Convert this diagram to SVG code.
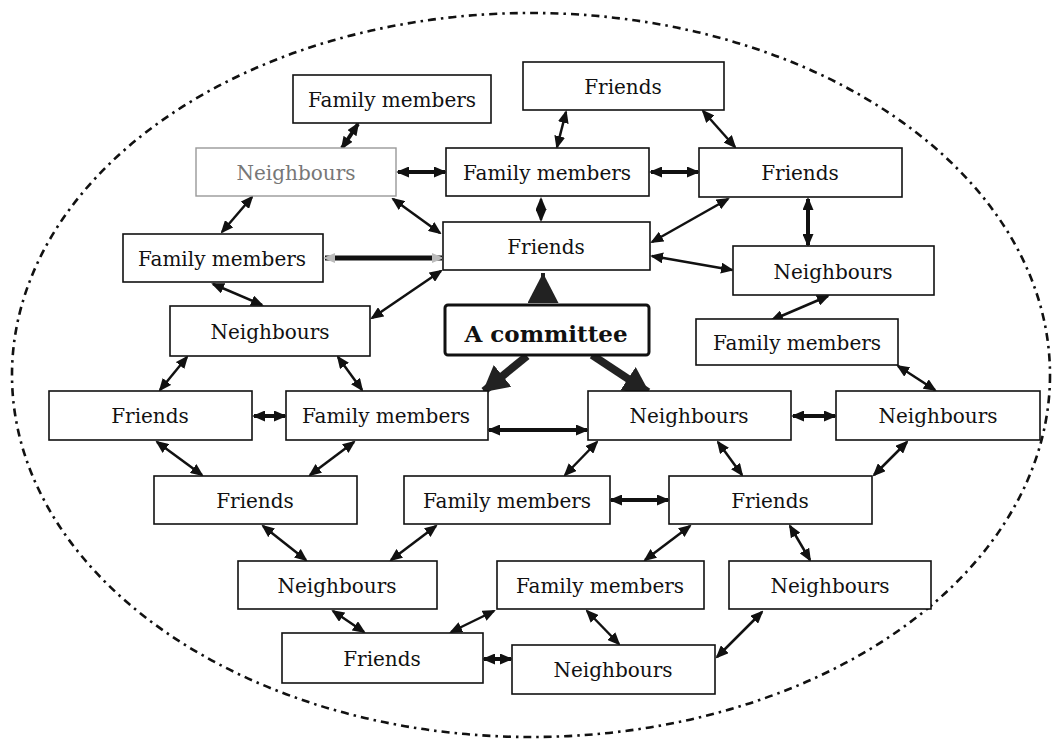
<svg xmlns="http://www.w3.org/2000/svg" width="1057" height="743" viewBox="0 0 1057 743">
<style>
.box{fill:#fff;stroke:#111;stroke-width:1.6}
.gbox{fill:#fff;stroke:#999;stroke-width:1.4}
.cbox{fill:#fff;stroke:#111;stroke-width:3}
text{font-family:"DejaVu Serif","Liberation Serif",serif;font-size:20px;fill:#111;text-anchor:middle}
.g{fill:#777}
.b{font-weight:bold;font-size:23px}
.c{stroke:#111;stroke-width:2.5;fill:none;marker-start:url(#ah);marker-end:url(#ah)}
.t{stroke:#111;stroke-width:4;fill:none;marker-start:url(#ah);marker-end:url(#ah)}
.k{stroke:#222;stroke-width:8;fill:none;marker-end:url(#big)}
</style>
<defs>
<marker id="ah" viewBox="0 0 13 11" refX="11" refY="5.5" markerWidth="13" markerHeight="11" markerUnits="userSpaceOnUse" orient="auto-start-reverse"><path d="M0,0 L13,5.5 L0,11 z" fill="#111"/></marker>
<marker id="gh" viewBox="0 0 12 10" refX="10" refY="5" markerWidth="12" markerHeight="10" markerUnits="userSpaceOnUse" orient="auto-start-reverse"><path d="M0,0 L12,5 L0,10 z" fill="#bbb"/></marker>
<marker id="big" viewBox="0 0 26 28" refX="24" refY="14" markerWidth="26" markerHeight="28" markerUnits="userSpaceOnUse" orient="auto"><path d="M0,0 L26,14 L0,28 z" fill="#222"/></marker>
<marker id="tri" viewBox="0 0 30 31" refX="30" refY="15.5" markerWidth="30" markerHeight="31" markerUnits="userSpaceOnUse" orient="auto"><path d="M0,0 L30,15.5 L0,31 z" fill="#222"/></marker>
</defs>
<ellipse cx="531" cy="375" rx="519" ry="362" fill="none" stroke="#111" stroke-width="2.6" stroke-dasharray="8 5 2.5 5"/>
<g id="connectors">
<line class="t" x1="358" y1="124" x2="342" y2="148"/>
<line class="c" x1="566" y1="112" x2="557" y2="147"/>
<line class="c" x1="703" y1="111" x2="735" y2="147"/>
<line class="t" x1="398" y1="172" x2="445" y2="172"/>
<line class="t" x1="651" y1="172" x2="698" y2="172"/>
<line class="c" x1="541" y1="199" x2="541" y2="220"/>
<line class="c" x1="393" y1="199" x2="440" y2="233"/>
<line class="c" x1="252" y1="197" x2="222" y2="232"/>
<line x1="325" y1="258" x2="442" y2="258" stroke="#111" stroke-width="5" marker-start="url(#gh)" marker-end="url(#gh)"/>
<line class="c" x1="728" y1="199" x2="652" y2="242"/>
<line class="t" x1="808" y1="199" x2="808" y2="245"/>
<line class="c" x1="652" y1="256" x2="732" y2="270"/>
<line class="c" x1="213" y1="284" x2="262" y2="305"/>
<line class="c" x1="441" y1="271" x2="372" y2="318"/>
<line class="c" x1="828" y1="296" x2="772" y2="320"/>
<line x1="543" y1="303" x2="543" y2="273" stroke="#222" stroke-width="4" marker-end="url(#tri)"/>
<line class="k" x1="592" y1="355" x2="648" y2="392"/>
<line class="k" x1="527" y1="356" x2="484" y2="391"/>
<line class="c" x1="187" y1="357" x2="160" y2="390"/>
<line class="c" x1="338" y1="357" x2="362" y2="390"/>
<line class="c" x1="898" y1="366" x2="935" y2="390"/>
<line class="t" x1="254" y1="416" x2="285" y2="416"/>
<line class="t" x1="489" y1="430" x2="587" y2="430"/>
<line class="t" x1="793" y1="416" x2="835" y2="416"/>
<line class="c" x1="157" y1="442" x2="202" y2="475"/>
<line class="c" x1="354" y1="442" x2="310" y2="475"/>
<line class="c" x1="597" y1="442" x2="565" y2="475"/>
<line class="c" x1="718" y1="442" x2="742" y2="475"/>
<line class="c" x1="907" y1="442" x2="874" y2="475"/>
<line class="t" x1="611" y1="500" x2="668" y2="500"/>
<line class="c" x1="263" y1="526" x2="306" y2="560"/>
<line class="c" x1="436" y1="526" x2="391" y2="560"/>
<line class="c" x1="690" y1="526" x2="645" y2="560"/>
<line class="c" x1="790" y1="526" x2="810" y2="560"/>
<line class="c" x1="333" y1="611" x2="364" y2="632"/>
<line class="c" x1="494" y1="611" x2="451" y2="632"/>
<line class="c" x1="587" y1="611" x2="619" y2="644"/>
<line class="c" x1="762" y1="612" x2="717" y2="657"/>
<line class="t" x1="484" y1="659" x2="511" y2="659"/>
</g>
<g id="n1"><rect class="box" x="293" y="75" width="198" height="48"/><text x="392" y="107">Family members</text></g>
<g id="n2"><rect class="box" x="523" y="62" width="201" height="48"/><text x="623" y="94">Friends</text></g>
<g id="n3"><rect class="gbox" x="196" y="148" width="200" height="48"/><text class="g" x="296" y="180">Neighbours</text></g>
<g id="n4"><rect class="box" x="446" y="148" width="203" height="48"/><text x="547" y="180">Family members</text></g>
<g id="n5"><rect class="box" x="699" y="148" width="203" height="49"/><text x="800" y="180">Friends</text></g>
<g id="n6"><rect class="box" x="443" y="222" width="207" height="48"/><text x="546" y="254">Friends</text></g>
<g id="n7"><rect class="box" x="123" y="234" width="200" height="48"/><text x="222" y="266">Family members</text></g>
<g id="n8"><rect class="box" x="733" y="246" width="201" height="49"/><text x="833" y="279">Neighbours</text></g>
<g id="n9"><rect class="box" x="170" y="306" width="200" height="50"/><text x="270" y="339">Neighbours</text></g>
<g id="n10"><rect class="cbox" x="445" y="305" width="204" height="50" rx="3"/><text class="b" x="546" y="342">A committee</text></g>
<g id="n11"><rect class="box" x="696" y="319" width="202" height="46"/><text x="797" y="350">Family members</text></g>
<g id="n12"><rect class="box" x="49" y="391" width="203" height="49"/><text x="150" y="423">Friends</text></g>
<g id="n13"><rect class="box" x="286" y="391" width="202" height="49"/><text x="386" y="423">Family members</text></g>
<g id="n14"><rect class="box" x="588" y="391" width="203" height="49"/><text x="689" y="423">Neighbours</text></g>
<g id="n15"><rect class="box" x="836" y="391" width="204" height="49"/><text x="938" y="423">Neighbours</text></g>
<g id="n16"><rect class="box" x="154" y="476" width="203" height="48"/><text x="255" y="508">Friends</text></g>
<g id="n17"><rect class="box" x="404" y="476" width="206" height="48"/><text x="507" y="508">Family members</text></g>
<g id="n18"><rect class="box" x="669" y="476" width="203" height="48"/><text x="770" y="508">Friends</text></g>
<g id="n19"><rect class="box" x="238" y="561" width="199" height="48"/><text x="337" y="593">Neighbours</text></g>
<g id="n20"><rect class="box" x="497" y="561" width="207" height="48"/><text x="600" y="593">Family members</text></g>
<g id="n21"><rect class="box" x="729" y="561" width="202" height="48"/><text x="830" y="593">Neighbours</text></g>
<g id="n22"><rect class="box" x="282" y="633" width="201" height="50"/><text x="382" y="666">Friends</text></g>
<g id="n23"><rect class="box" x="512" y="645" width="203" height="49"/><text x="613" y="677">Neighbours</text></g>
</svg>
